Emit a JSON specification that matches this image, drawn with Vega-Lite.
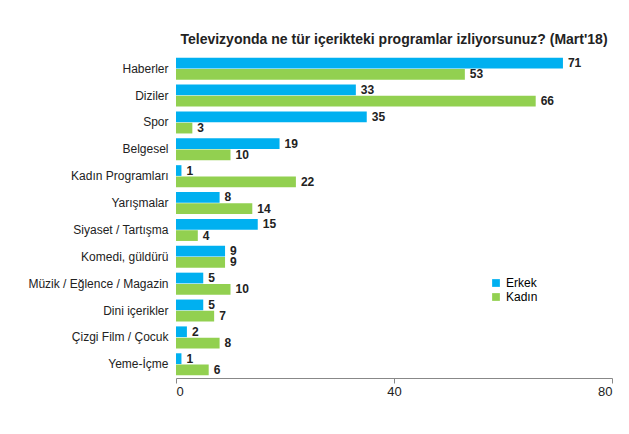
{
"$schema":"https://vega.github.io/schema/vega-lite/v6.json",
"width":436,"height":323,
"autosize":"none",
"padding":{"left":176,"top":55,"right":17,"bottom":56},
"title":{"text":"Televizyonda ne tür içerikteki programlar izliyorsunuz? (Mart'18)","fontSize":14,"font":"Liberation Sans","fontWeight":"bold","color":"#222","offset":8},
"config":{"view":{"stroke":null},"font":"Liberation Sans"},
"data":{"values":[
{"k":"Haberler","g":"Erkek","v":71},{"k":"Haberler","g":"Kadın","v":53},
{"k":"Diziler","g":"Erkek","v":33},{"k":"Diziler","g":"Kadın","v":66},
{"k":"Spor","g":"Erkek","v":35},{"k":"Spor","g":"Kadın","v":3},
{"k":"Belgesel","g":"Erkek","v":19},{"k":"Belgesel","g":"Kadın","v":10},
{"k":"Kadın Programları","g":"Erkek","v":1},{"k":"Kadın Programları","g":"Kadın","v":22},
{"k":"Yarışmalar","g":"Erkek","v":8},{"k":"Yarışmalar","g":"Kadın","v":14},
{"k":"Siyaset / Tartışma","g":"Erkek","v":15},{"k":"Siyaset / Tartışma","g":"Kadın","v":4},
{"k":"Komedi, güldürü","g":"Erkek","v":9},{"k":"Komedi, güldürü","g":"Kadın","v":9},
{"k":"Müzik / Eğlence / Magazin","g":"Erkek","v":5},{"k":"Müzik / Eğlence / Magazin","g":"Kadın","v":10},
{"k":"Dini içerikler","g":"Erkek","v":5},{"k":"Dini içerikler","g":"Kadın","v":7},
{"k":"Çizgi Film / Çocuk","g":"Erkek","v":2},{"k":"Çizgi Film / Çocuk","g":"Kadın","v":8},
{"k":"Yeme-İçme","g":"Erkek","v":1},{"k":"Yeme-İçme","g":"Kadın","v":6}
]},
"encoding":{
"y":{"field":"k","type":"nominal","sort":null,"title":null,"scale":{"paddingInner":0.18,"paddingOuter":0.1},
 "axis":{"ticks":false,"domain":false,"labelFontSize":12,"labelColor":"#222","labelPadding":8}},
"yOffset":{"field":"g","type":"nominal","scale":{"paddingInner":0.05}},
"x":{"field":"v","type":"quantitative","title":null,"scale":{"domain":[0,80]},
 "axis":{"values":[0,40,80],"grid":false,"domainColor":"#888","tickColor":"#888","labelFontSize":13,"labelColor":"#222"}}
},
"layer":[
{"mark":{"type":"bar"},"encoding":{"color":{"field":"g","type":"nominal","scale":{"range":["#00B0F0","#92D050"]},"title":null,
 "legend":{"orient":"none","legendX":314,"legendY":222,"symbolType":"square","labelFontSize":12,"symbolSize":60}}}},
{"mark":{"type":"text","align":"left","dx":5,"fontWeight":"bold","fontSize":12,"color":"#222"},"encoding":{"text":{"field":"v"}}}
]
}
